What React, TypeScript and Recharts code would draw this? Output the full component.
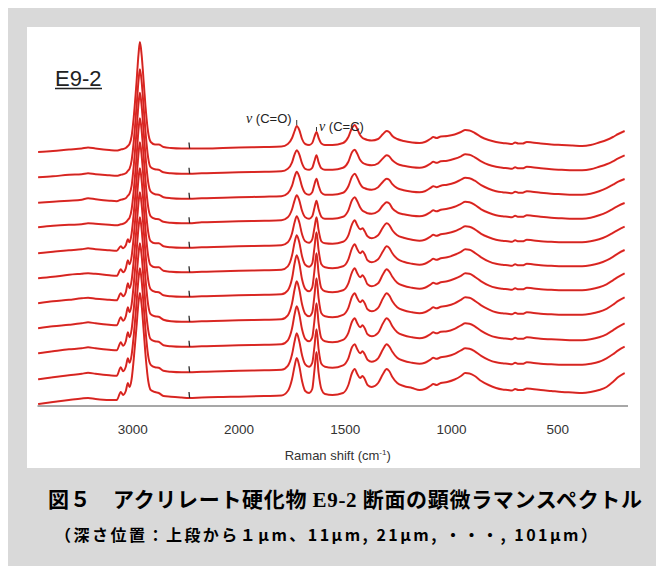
import React from 'react';
import { LineChart, Line, XAxis, YAxis, ReferenceLine } from 'recharts';

// Raman shift (cm-1) sample positions
const wavenumbers = [
  3890, 3750, 3600, 3480, 3420, 3350, 3220, 3150, 3112, 3090,
  3065, 3045, 3030, 3010, 2990, 2965, 2945, 2932, 2915, 2895,
  2875, 2855, 2830, 2790, 2755, 2710, 2640, 2540, 2470, 2350,
  2150, 2000, 1880, 1800, 1770, 1750, 1738, 1728, 1716, 1703,
  1688, 1670, 1655, 1645, 1635, 1625, 1612, 1595, 1560, 1510,
  1485, 1468, 1455, 1443, 1430, 1418, 1408, 1395, 1375, 1345,
  1322, 1305, 1293, 1278, 1255, 1225, 1185, 1150, 1125, 1100,
  1085, 1070, 1050, 1020, 985, 955, 935, 915, 890, 860,
  825, 790, 760, 735, 715, 700, 685, 665, 645, 620,
  580, 530, 480, 430, 385, 345, 305, 270, 240, 215,
  185,
];

// intensity above each trace's own baseline (top trace = 1 µm ... bottom = 101 µm)
const d1 = [
  0, 1, 2.5, 3.5, 4.5, 3.5, 2, 1.5, 2.5, 3,
  4, 6, 8, 16, 35, 68, 98, 110, 96, 68,
  40, 20, 10, 7.5, 7.5, 5, 4, 3.5, 3.5, 3.5,
  4, 4.5, 5, 5.5, 8, 14, 21, 26, 22, 13,
  8, 7, 9, 15, 20, 14, 8.5, 7, 7, 9,
  15, 24, 27, 23, 17, 14, 13, 12, 11.5, 13,
  18, 21, 20, 16, 13, 11, 9.5, 9, 10, 13,
  15, 14, 15.5, 16, 17.5, 20, 22, 21.5, 19, 15,
  12, 10, 9, 8.5, 8, 9.5, 8.5, 8.5, 10, 9.5,
  8.5, 7.5, 7, 6.5, 6, 7, 9.5, 12, 15, 18,
  21,
];
const d11 = [
  0, 1, 2.5, 3, 4, 3, 2, 1.5, 2.5, 3,
  4, 6.5, 8.5, 17, 36, 69, 97, 108, 95, 67,
  40, 20, 10, 8, 7.5, 5, 4, 3.5, 3.5, 4,
  4.5, 5, 5.5, 6, 8.5, 15, 23, 27, 23, 14,
  8.5, 7.5, 9.5, 16, 22, 15, 9, 7.5, 7.5, 9.5,
  15.5, 25, 27.5, 23.5, 17.5, 14.5, 13.5, 12.5, 12, 14,
  19, 22, 21, 17, 13.5, 11.5, 10, 9.5, 10.5, 13.5,
  15.5, 14.5, 16, 16.5, 18.5, 21, 23, 22.5, 20, 16,
  12.5, 10.5, 9.5, 9, 8.5, 10, 9, 9, 10.5, 10,
  9, 8, 7.5, 7, 7, 8, 10.5, 13, 16, 19,
  22,
];
const d21 = [
  0, 1, 2, 3, 4.5, 3.5, 2, 1.5, 3, 3.5,
  4.5, 7, 9, 17, 37, 70, 99, 110, 96, 68,
  41, 21, 11, 8.5, 8, 5.5, 4.5, 4, 4, 4.5,
  5, 5.5, 6, 6.5, 9.5, 17, 26, 31, 26, 16,
  9.5, 8, 10.5, 18, 24, 17, 10, 8, 8, 10,
  16.5, 26, 29, 25, 19, 15.5, 14.5, 13.5, 13, 15.5,
  21, 24, 23, 18.5, 14.5, 12.5, 11, 10.5, 11.5, 14.5,
  16.5, 15.5, 17, 18, 20, 23, 25, 24.5, 22, 17.5,
  14, 11.5, 10.5, 10, 9.5, 11, 10, 10, 11.5, 11,
  10, 9, 8.5, 8, 8, 9, 11.5, 14.5, 18, 21,
  23.7,
];
const d31 = [
  0, 1.5, 2.5, 3, 4, 3.5, 2.5, 2, 3, 3.5,
  5, 7.5, 9.5, 18, 37, 69, 98, 109, 96, 68,
  41, 21, 11, 8.5, 8, 5.5, 4.5, 4, 4, 5,
  5.5, 6, 6.5, 7, 10, 18, 27, 32, 27, 16.5,
  10, 8.5, 11, 19, 26.5, 18, 10.5, 8.5, 8.5, 10.5,
  17, 27, 30, 26, 20, 16.5, 15.5, 14, 13.5, 16,
  22, 25, 24, 19, 15, 13, 11.5, 11, 12, 15,
  17, 16, 17.5, 18.5, 20.5, 23.5, 25.5, 25, 22.5, 18,
  14.5, 12, 11, 10.5, 10, 11.5, 10.5, 10.5, 12, 11.5,
  10.5, 9.5, 9, 8.5, 8.5, 9.5, 12, 15, 18.5, 21.5,
  24.3,
];
const d41 = [
  0, 1.5, 3, 4, 5, 4, 3, 2.5, 7, 5,
  8, 14, 11, 20, 40, 72, 100, 111, 97, 70,
  42, 22, 12, 10, 10, 7, 6, 5.5, 5.5, 6,
  6.5, 7, 7.5, 8, 11, 20, 31, 37, 31, 19,
  12, 10.5, 14, 25, 36, 23, 12, 10, 9.5, 11.5,
  18, 29, 33, 28, 24, 25, 22, 17, 15, 18,
  26, 30, 28.5, 23, 18, 15.5, 13.5, 12.5, 13.5, 16.5,
  18.5, 17.5, 19, 20, 22, 25, 27, 26.5, 24, 19.5,
  16, 13.5, 12.5, 12, 11.5, 13, 12, 12, 13.5, 13,
  12, 11.5, 11, 11, 11, 12, 14, 17, 20.5, 23.5,
  26.6,
];
const d51 = [
  0, 1.5, 3.5, 4.5, 5, 4.5, 3, 2.5, 9, 6,
  10, 18, 14, 22, 42, 73, 100, 110, 97, 70,
  43, 23, 13, 11, 11, 7.5, 6.5, 6, 6, 6.5,
  7, 7.5, 8, 8.5, 12, 23, 36, 43, 36, 22,
  13.5, 11.5, 15, 30, 46, 28, 14, 11, 10, 12,
  19, 30, 34, 29, 25, 27, 24, 18, 16, 19,
  27, 32, 30.5, 25, 19.5, 16.5, 14.5, 13.5, 14.5, 17.5,
  19.5, 18.5, 20, 21, 23.5, 26.5, 29, 28.5, 25.5, 21,
  17, 14.5, 13.5, 13, 12.5, 14, 13, 13, 14.5, 14,
  13, 12.5, 12, 12, 12, 13, 15, 18, 21.5, 25,
  28.3,
];
const d61 = [
  0, 2, 3.5, 5, 5.5, 4.5, 3.5, 3, 10, 7,
  11, 20, 15, 23, 43, 74, 101, 111, 98, 71,
  44, 24, 14, 11.5, 11, 8, 7, 6.5, 6.5, 7,
  7.5, 8, 8.5, 9, 13, 25, 40, 48, 40, 24,
  14.5, 12, 16, 32, 50, 30, 15, 12, 11, 13,
  20, 31, 35, 30, 26, 28, 25, 19, 17, 20,
  29, 34, 32, 26.5, 20.5, 17.5, 15.5, 14.5, 15.5, 18.5,
  20.5, 19.5, 21, 22, 24.5, 27.5, 30, 29.5, 26.5, 22,
  18, 15.5, 14.5, 14, 13.5, 15, 14, 14, 15.5, 15,
  14, 13.5, 13, 13, 13, 14, 16, 19, 23, 26.5,
  30,
];
const d71 = [
  0, 2, 3.5, 5, 6, 5, 3.5, 3, 11, 7.5,
  12, 21, 16, 24, 44, 75, 101, 111, 98, 71,
  44, 24, 14, 12, 11.5, 8.5, 7, 6.5, 6.5, 7,
  7.5, 8, 8.5, 9, 13, 25, 39, 47, 39, 24,
  14.5, 12, 16, 32, 50, 30, 15, 12, 11, 13.5,
  20.5, 31.5, 35, 30, 26, 28, 25, 19, 17, 20.5,
  30, 35, 33, 27, 21, 18, 16, 15, 16, 19,
  21, 20, 21.5, 22.5, 25, 28.5, 31, 30.5, 27.5, 23,
  19, 16, 15, 14.5, 14, 15.5, 14.5, 14.5, 16, 15.5,
  14.5, 14, 13.5, 13.5, 13.5, 14.5, 16.5, 19.5, 23.5, 27.5,
  31,
];
const d81 = [
  0, 2, 4, 5, 6, 5, 3.5, 3, 11, 7.5,
  12, 21, 16, 24, 44, 74, 100, 110, 97, 70,
  43, 24, 14, 12, 11.5, 8, 7, 6.5, 6.5, 7,
  7.5, 8, 8.5, 9, 13, 25, 39, 47, 39, 24,
  14.5, 12, 16, 32, 50, 30, 15, 12, 11, 13.5,
  20.5, 31.5, 35, 30, 26, 28, 25, 19, 17, 20.5,
  30, 35, 33, 27, 21, 18, 16, 15, 16, 19,
  21, 20, 21.5, 22, 24.5, 28, 30, 29.5, 27, 22.5,
  18.5, 16, 15, 14.5, 14, 15.5, 14.5, 14.5, 16, 15.5,
  14.5, 14, 13.5, 13, 13, 14, 16, 19, 23, 26.5,
  30,
];
const d91 = [
  0, 2, 4, 5.5, 6.5, 5.5, 4, 3.5, 12, 8,
  12.5, 21, 16.5, 24.5, 44, 75, 101, 111, 98, 71,
  44, 24, 14.5, 12, 11.5, 8.5, 7.5, 7, 7, 7.5,
  8, 8.5, 9, 9.5, 13.5, 25, 38, 46, 38, 24,
  15, 12.5, 16.5, 32, 50, 30, 15.5, 12.5, 11.5, 14,
  21, 32, 35, 30, 26, 28, 25, 19.5, 17.5, 21,
  30, 35, 33, 27.5, 21.5, 18.5, 16.5, 15.5, 16.5, 19.5,
  21.5, 20.5, 22, 23, 25.5, 29, 31, 30.5, 28, 23.5,
  19.5, 17, 16, 15.5, 15, 16.5, 15.5, 15.5, 17, 16.5,
  15.5, 15, 14.5, 14.5, 14.5, 15.5, 17.5, 21, 25, 29,
  32.6,
];
const d101 = [
  0, 2, 4, 5.5, 6, 5, 4, 4, 12, 9,
  13, 21, 17, 25, 45, 76, 102, 111, 98, 71,
  44, 24, 14, 12, 11, 8, 7.3, 6.5, 6, 6.5,
  7, 7.3, 8, 8.5, 13, 25, 38, 46, 38, 23,
  13, 11, 15, 33, 52, 31, 15, 10, 9, 11,
  19, 31, 35, 30, 26, 28, 25, 19, 17, 21,
  30, 35, 33, 27, 21, 18, 16, 14, 15, 18,
  20, 19, 21, 22, 24.5, 28, 31, 30.5, 28, 23,
  19, 16, 14.5, 14, 13.5, 15, 14, 14, 15.5, 15,
  14, 13, 12, 11.5, 11, 12, 14, 17, 22, 27,
  31,
];
const spectra = [d1, d11, d21, d31, d41, d51, d61, d71, d81, d91, d101];
// vertical stacking offsets of the traces (top to bottom)
const offsets = [254, 228.7, 203.3, 178.7, 152.7, 127.7, 102.7, 77.7, 52.7, 26.7, 2];

const xTickLabels = [3000, 2000, 1500, 1000, 500];
const xMinorTicks = [3500, 3000, 2500, 2000, 1750, 1500, 1250, 1000, 750, 500, 250];
const yMinorTicks = [
  0, 8, 16, 24, 32, 40, 48, 56, 64, 72, 80, 88, 96, 104, 112, 120, 128, 136, 144, 152,
  160, 168, 176, 184, 192, 200, 208, 216, 224, 232, 240, 248, 256, 264, 272, 280, 288,
  296, 304, 312, 320, 328, 336, 344, 352, 360, 368,
];
const stitchWavenumber = 2470;

// broken axis: region above 2000 cm-1 drawn at half scale
const BREAK = 2000;
const toAxis = (w: number) => (w <= BREAK ? w : BREAK + (w - BREAK) / 2);
const fromAxis = (u: number) => (u <= BREAK ? u : BREAK + (u - BREAK) * 2);

const X_DOMAIN = [toAxis(169), toAxis(3896)];
const Y_DOMAIN = [0, 370];

const data = wavenumbers.map((w, i) => {
  const row: Record<string, number> = { u: toAxis(w), w };
  spectra.forEach((s, k) => {
    row[`s${k}`] = offsets[k] + s[i];
  });
  return row;
});

const RED = '#f22a26';
const CORE = '#7a2420';
const AXIS = '#8a8a8a';

const renderStitch = (p: any) => {
  if (p && p.payload && p.payload.w === stitchWavenumber) {
    return (
      <line
        key={`st-${p.dataKey}-${p.index}`}
        x1={p.cx}
        x2={p.cx + 0.6}
        y1={p.cy - 6}
        y2={p.cy}
        stroke="#2a2a2a"
        strokeWidth={1.3}
      />
    );
  }
  return <g key={`st-${p?.dataKey}-${p?.index}`} />;
};

const AxisTitle = (props: any) => {
  const vb = props.viewBox || {};
  const cx = vb.x + vb.width / 2 + 5;
  return (
    <text
      x={cx}
      y={vb.y + 54}
      textAnchor="middle"
      fontFamily="'Liberation Sans', Arial, sans-serif"
      fontSize={13}
      fill="#333"
    >
      Raman shift (cm
      <tspan fontSize={8} dy={-5}>-1</tspan>
      <tspan dy={5}>)</tspan>
    </text>
  );
};

export default function App() {
  return (
    <div style={{ position: 'relative', width: 656, height: 558, background: '#d9d9d9' }}>
      <div style={{ position: 'absolute', left: 19, top: 19, width: 613, height: 441, background: '#fff' }} />
      <div style={{ position: 'absolute', left: 19, top: 19 }}>
        <LineChart
          width={613}
          height={441}
          data={data}
          margin={{ top: 9, right: 12, left: 10.5, bottom: 0 }}
        >
          <XAxis
            xAxisId="minor"
            dataKey="u"
            type="number"
            domain={X_DOMAIN}
            reversed
            allowDataOverflow
            ticks={xMinorTicks.map(toAxis)}
            tickFormatter={() => ''}
            mirror
            height={0}
            axisLine={false}
            tickSize={3}
            tickLine={{ stroke: '#444' }}
          />
          <XAxis
            dataKey="u"
            type="number"
            domain={X_DOMAIN}
            reversed
            allowDataOverflow
            ticks={xTickLabels.map(toAxis)}
            tickFormatter={(u: number) => String(fromAxis(u))}
            tickLine={false}
            tickSize={8}
            tickMargin={10}
            height={62}
            axisLine={{ stroke: AXIS, strokeWidth: 1.5 }}
            tick={{ fill: '#333', fontSize: 13.5, fontFamily: "'Liberation Sans', Arial, sans-serif" }}
            label={<AxisTitle />}
          />
          <XAxis
            xAxisId="top"
            orientation="top"
            dataKey="u"
            type="number"
            domain={X_DOMAIN}
            reversed
            allowDataOverflow
            height={0}
            tick={false}
            axisLine={{ stroke: AXIS, strokeWidth: 1.5 }}
          />
          <YAxis
            type="number"
            domain={Y_DOMAIN}
            allowDataOverflow
            width={0}
            mirror
            ticks={yMinorTicks}
            tickFormatter={() => ''}
            tickSize={2}
            tickLine={{ stroke: '#555' }}
            axisLine={{ stroke: AXIS, strokeWidth: 1.5 }}
          />
          <YAxis
            yAxisId="right"
            orientation="right"
            type="number"
            domain={Y_DOMAIN}
            allowDataOverflow
            width={0}
            tick={false}
            axisLine={{ stroke: AXIS, strokeWidth: 1.5 }}
          />
          {spectra.map((_, k) => (
            <Line
              key={`r${k}`}
              dataKey={`s${k}`}
              type="monotone"
              stroke={RED}
              strokeWidth={2}
              dot={false}
              activeDot={false}
              isAnimationActive={false}
            />
          ))}
          {spectra.map((_, k) => (
            <Line
              key={`c${k}`}
              dataKey={`s${k}`}
              type="monotone"
              stroke={CORE}
              strokeOpacity={0.55}
              strokeWidth={0.7}
              dot={renderStitch}
              activeDot={false}
              isAnimationActive={false}
            />
          ))}
          <ReferenceLine
            segment={[{ x: toAxis(1728), y: offsets[0] + 27 }, { x: toAxis(1728), y: offsets[0] + 32 }]}
            stroke="#333"
            strokeWidth={1}
          />
          <ReferenceLine
            segment={[{ x: toAxis(1635), y: offsets[0] + 21 }, { x: toAxis(1635), y: offsets[0] + 25 }]}
            stroke="#333"
            strokeWidth={1}
          />
        </LineChart>
      </div>
      <svg
        width={656}
        height={558}
        style={{ position: 'absolute', left: 0, top: 0, pointerEvents: 'none' }}
      >
        <text x={47} y={78} fontFamily="'Liberation Sans', Arial, sans-serif" fontSize={22} fill="#222">
          E9-2
        </text>
        <line x1={47} x2={94} y1={80.5} y2={80.5} stroke="#222" strokeWidth={1.4} />
        <text x={238} y={115} fontFamily="'Liberation Sans', Arial, sans-serif" fontSize={13} fill="#222">
          <tspan fontFamily="'Liberation Serif', serif" fontStyle="italic" fontSize={14}>ν</tspan> (C=O)
        </text>
        <text x={311} y={123} fontFamily="'Liberation Sans', Arial, sans-serif" fontSize={13} fill="#222">
          <tspan fontFamily="'Liberation Serif', serif" fontStyle="italic" fontSize={14}>ν</tspan> (C=C)
        </text>
        <text
          x={40}
          y={499}
          fontFamily="'Noto Sans CJK JP', sans-serif"
          fontWeight="bold"
          fontSize={21}
          fill="#000"
          textLength={594}
          lengthAdjust="spacing"
        >
          図５　アクリレート硬化物 <tspan fontFamily="'Liberation Serif', serif">E9-2</tspan> 断面の顕微ラマンスペクトル
        </text>
        <text
          x={47}
          y={533}
          fontFamily="'Noto Sans CJK JP', sans-serif"
          fontWeight="bold"
          fontSize={16}
          fill="#000"
          textLength={542}
          lengthAdjust="spacing"
        >
          （深さ位置：上段から１μm、11μm, 21μm, ・・・, 101μm）
        </text>
      </svg>
    </div>
  );
}
